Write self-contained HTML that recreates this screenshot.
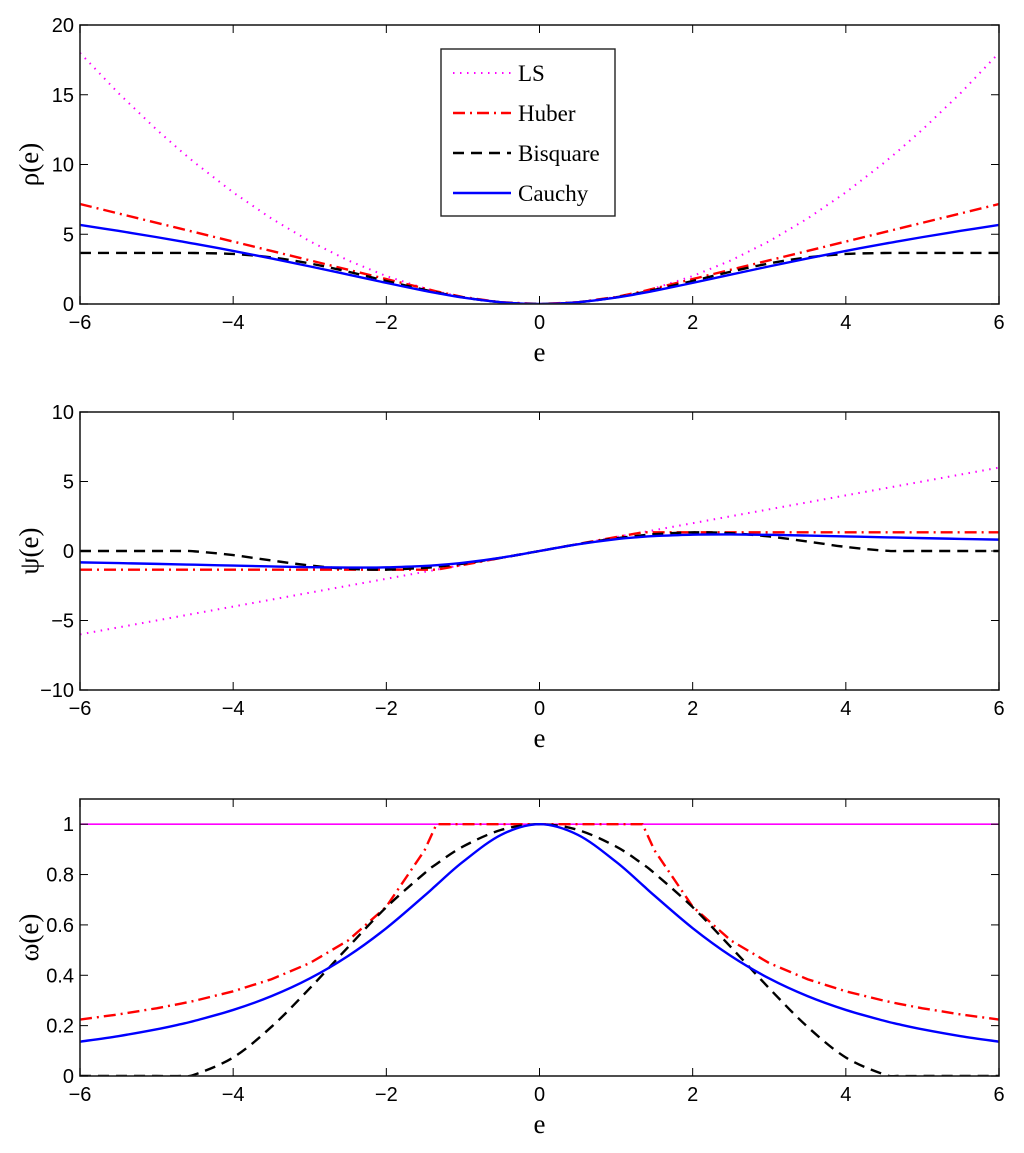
<!DOCTYPE html>
<html><head><meta charset="utf-8"><style>
body{margin:0;background:#fff;}
svg text{font-family:"Liberation Sans",sans-serif;}
</style></head><body>
<svg id="c" width="1024" height="1148" xmlns="http://www.w3.org/2000/svg"></svg>
<script>
const eVals=[-6,-5.5,-5,-4.685,-4.5,-4,-3.5,-3,-2.5,-2,-1.5,-1.345,-1,-0.5,0,0.5,1,1.345,1.5,2,2.5,3,3.5,4,4.5,4.685,5,5.5,6];
const rhoLS=[18,15.125,12.5,10.975,10.125,8,6.125,4.5,3.125,2,1.125,0.9045,0.5,0.125,0,0.125,0.5,0.9045,1.125,2,3.125,4.5,6.125,8,10.125,10.975,12.5,15.125,18];
const rhoHuber=[7.166,6.493,5.821,5.397,5.148,4.476,3.803,3.131,2.458,1.786,1.113,0.9045,0.5,0.125,0,0.125,0.5,0.9045,1.113,1.786,2.458,3.131,3.803,4.476,5.148,5.397,5.821,6.493,7.166];
const rhoBisq=[3.658,3.658,3.658,3.658,3.656,3.585,3.342,2.907,2.320,1.650,1.014,0.832,0.4774,0.1236,0,0.1236,0.4774,0.832,1.014,1.650,2.320,2.907,3.342,3.585,3.656,3.658,3.658,3.658,3.658];
const rhoCauchy=[5.665,5.243,4.794,4.496,4.315,3.806,3.267,2.698,2.108,1.514,0.948,0.785,0.4606,0.1223,0,0.1223,0.4606,0.785,0.948,1.514,2.108,2.698,3.267,3.806,4.315,4.496,4.794,5.243,5.665];
const psiLS=[-6,-5.5,-5,-4.685,-4.5,-4,-3.5,-3,-2.5,-2,-1.5,-1.345,-1,-0.5,0,0.5,1,1.345,1.5,2,2.5,3,3.5,4,4.5,4.685,5,5.5,6];
const psiHuber=[-1.345,-1.345,-1.345,-1.345,-1.345,-1.345,-1.345,-1.345,-1.345,-1.345,-1.345,-1.345,-1,-0.5,0,0.5,1,1.345,1.345,1.345,1.345,1.345,1.345,1.345,1.345,1.345,1.345,1.345,1.345];
const psiBisq=[0,0,0,0,-0.027,-0.294,-0.683,-1.044,-1.279,-1.341,-1.208,-1.1325,-0.911,-0.4887,0,0.4887,0.911,1.1325,1.208,1.341,1.279,1.044,0.683,0.294,0.027,0,0,0,0];
const psiCauchy=[-0.8187,-0.8705,-0.9268,-0.9642,-0.9868,-1.049,-1.1098,-1.1618,-1.1912,-1.1743,-1.0748,-1.0205,-0.8505,-0.479,0,0.479,0.8505,1.0205,1.0748,1.1743,1.1912,1.1618,1.1098,1.049,0.9868,0.9642,0.9268,0.8705,0.8187];
const wLS=[1,1,1,1,1,1,1,1,1,1,1,1,1,1,1,1,1,1,1,1,1,1,1,1,1,1,1,1,1];
const wHuber=[0.2242,0.2445,0.269,0.2871,0.2989,0.3363,0.3843,0.4483,0.538,0.6725,0.8967,1,1,1,1,1,1,1,0.8967,0.6725,0.538,0.4483,0.3843,0.3363,0.2989,0.2871,0.269,0.2445,0.2242];
const wBisq=[0,0,0,0,0.006,0.0736,0.1953,0.3481,0.5116,0.6704,0.8055,0.842,0.911,0.9773,1,0.9773,0.911,0.842,0.8055,0.6704,0.5116,0.3481,0.1953,0.0736,0.006,0,0,0,0];
const wCauchy=[0.1364,0.1583,0.1854,0.2058,0.2193,0.2623,0.3171,0.3873,0.4765,0.5871,0.7165,0.7587,0.8505,0.9579,1,0.9579,0.8505,0.7587,0.7165,0.5871,0.4765,0.3873,0.3171,0.2623,0.2193,0.2058,0.1854,0.1583,0.1364];
const xTicks=[-6,-4,-2,0,2,4,6];
const y1Ticks=[0,5,10,15,20];
const y2Ticks=[-10,-5,0,5,10];
const y3Ticks=[0,0.2,0.4,0.6,0.8,1];
const y3TickLabels=["0","0.2","0.4","0.6","0.8","1"];
const legendLabels=["LS","Huber","Bisquare","Cauchy"];

const NS="http://www.w3.org/2000/svg";
const svg=document.getElementById('c');
function mk(t,a,p){const e=document.createElementNS(NS,t);for(const k in a)e.setAttribute(k,a[k]);(p||svg).appendChild(e);return e;}
const L=80,R=999;
const styles=[
 {stroke:"#ff00ff",w:2,dash:"1.5,5.5",smooth:false,name:"ls"},
 {stroke:"#ff0000",w:2.4,dash:"12,5,2,5",smooth:false,name:"huber"},
 {stroke:"#000",w:2.4,dash:"11,7",smooth:true,name:"bisquare"},
 {stroke:"#0000ff",w:2.4,dash:"",smooth:true,name:"cauchy"}];
function pathFor(px,py,smooth){
 let d="M"+px[0]+","+py[0];
 if(!smooth){for(let i=1;i<px.length;i++)d+="L"+px[i]+","+py[i];return d;}
 for(let i=0;i<px.length-1;i++){
  const i0=Math.max(0,i-1),i3=Math.min(px.length-1,i+2);
  const c1x=px[i]+(px[i+1]-px[i0])/6,c1y=py[i]+(py[i+1]-py[i0])/6;
  const c2x=px[i+1]-(px[i3]-px[i])/6,c2y=py[i+1]-(py[i3]-py[i])/6;
  d+="C"+c1x+","+c1y+" "+c2x+","+c2y+" "+px[i+1]+","+py[i+1];}
 return d;}
function panel(id,top,bot,ymin,ymax,yt,ytl,ylabel,series,lsSolid){
 const g=mk('g',{});
 
 
 const sx=v=>L+(v+6)/12*(R-L);
 const sy=v=>bot-(v-ymin)/(ymax-ymin)*(bot-top);
 mk('rect',{x:L,y:top,width:R-L,height:bot-top,fill:"#fff"},g);
 const clipId=id+"-clip";
 const cp=mk('clipPath',{id:clipId},g);mk('rect',{x:L,y:top,width:R-L,height:bot-top},cp);
 const sg=mk('g',{'clip-path':"url(#"+clipId+")"},g);
 series.forEach((s,k)=>{
  const st=styles[k];
  const px=eVals.map(sx),py=s.map(sy);
  const p=mk('path',{d:pathFor(px,py,st.smooth),fill:"none",stroke:st.stroke,'stroke-width':(k==0&&lsSolid)?1.6:st.w,'stroke-dasharray':(k==0&&lsSolid)?"":st.dash},sg);
  
  
 });
 const fr=mk('rect',{x:L,y:top,width:R-L,height:bot-top,fill:"none",stroke:"#222",'stroke-width':1.6},g);
 
 
 xTicks.forEach(v=>{
  const x=sx(v);
  mk('line',{x1:x,x2:x,y1:bot,y2:bot-8,stroke:"#000"},g);
  mk('line',{x1:x,x2:x,y1:top,y2:top+8,stroke:"#000"},g);
  const t=mk('text',{x:x,y:bot+25,'text-anchor':"middle",'font-size':20},g);
  t.textContent=(v<0?"\u2212"+(-v):v);
  
  
 });
 yt.forEach((v,i)=>{
  const y=sy(v);
  mk('line',{x1:L,x2:L+8,y1:y,y2:y,stroke:"#000"},g);
  mk('line',{x1:R,x2:R-8,y1:y,y2:y,stroke:"#000"},g);
  const t=mk('text',{x:L-6,y:y+7,'text-anchor':"end",'font-size':20},g);
  t.textContent=ytl?ytl[i]:(v<0?"\u2212"+(-v):v);
  
  
 });
 const xl=mk('text',{x:(L+R)/2,y:bot+57,'text-anchor':"middle",'font-size':27,style:"font-family:'Liberation Serif',serif"},g);
 xl.textContent="e";
 
 
 const cy=(top+bot)/2;
 const yl=mk('text',{x:38,y:cy,'text-anchor':"middle",'font-size':27,transform:"rotate(-90 38 "+cy+")",style:"font-family:'Liberation Serif',serif"},g);
 yl.textContent=ylabel;
 
 
}
panel('rho-panel',25,304,0,20,y1Ticks,null,"\u03c1(e)",[rhoLS,rhoHuber,rhoBisq,rhoCauchy],false);
panel('psi-panel',412,690,-10,10,y2Ticks,null,"\u03c8(e)",[psiLS,psiHuber,psiBisq,psiCauchy],false);
panel('omega-panel',799,1076,0,1.1,y3Ticks,y3TickLabels,"\u03c9(e)",[wLS,wHuber,wBisq,wCauchy],true);

// legend
const lg=mk('g',{});


mk('rect',{x:441,y:49,width:174,height:167,fill:"#fff",stroke:"#222",'stroke-width':1.4},lg);
legendLabels.forEach((lab,i)=>{
 const st=styles[i];const y=73+i*40;
 const e=mk('g',{},lg);
 
 
 mk('line',{x1:453,x2:511,y1:y,y2:y,stroke:st.stroke,'stroke-width':st.w,'stroke-dasharray':st.dash},e);
 const t=mk('text',{x:518,y:y+8,'font-size':23,style:"font-family:'Liberation Serif',serif"},e);
 t.textContent=lab;
});
</script>
</body></html>
